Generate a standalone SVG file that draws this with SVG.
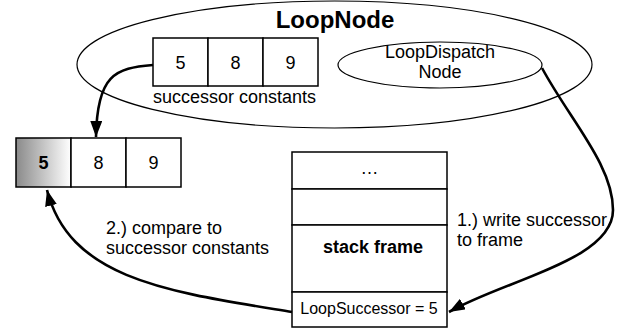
<svg xmlns="http://www.w3.org/2000/svg" width="619" height="329" viewBox="0 0 619 329">
<style>
text{font-family:"Liberation Sans",Arial,sans-serif;fill:#000}
.t{font-size:18px}
.c{text-anchor:middle}
.b{font-weight:bold}
.ell{fill:none;stroke:#000;stroke-width:1.2}
.box{fill:#fff;stroke:#000;stroke-width:1.5}
.conn{fill:none;stroke:#000;stroke-width:2.6}
</style>
<defs>
<marker id="ah" viewBox="0 0 16 12" refX="16" refY="6" markerWidth="16" markerHeight="12" markerUnits="userSpaceOnUse" orient="auto">
<path d="M0,0 L16,6 L0,12 z" fill="#000"/>
</marker>
<linearGradient id="g" x1="0" y1="0" x2="1" y2="0">
<stop offset="0" stop-color="#8a8a8a"/>
<stop offset="1" stop-color="#ffffff"/>
</linearGradient>
</defs>
<g id="loopnode">
<ellipse class="ell" cx="334.5" cy="64.5" rx="257.5" ry="63.5"/>
<text class="b c" x="335" y="28" font-size="24">LoopNode</text>
</g>
<g id="successor-constants">
<rect class="box" x="153" y="38" width="55" height="48"/>
<rect class="box" x="208" y="38" width="55" height="48"/>
<rect class="box" x="263" y="38" width="55" height="48"/>
<text class="t c" x="180.5" y="68.5">5</text>
<text class="t c" x="235.5" y="68.5">8</text>
<text class="t c" x="290.5" y="68.5">9</text>
<text class="t" x="153" y="103">successor constants</text>
</g>
<g id="loopdispatch">
<ellipse class="ell" cx="440" cy="65" rx="102" ry="23"/>
<text class="t c" x="440" y="58">LoopDispatch</text>
<text class="t c" x="440" y="78">Node</text>
</g>
<g id="left-array">
<rect x="16" y="138" width="55" height="49" fill="url(#g)" stroke="#000" stroke-width="1.5"/>
<rect class="box" x="71" y="138" width="55" height="49"/>
<rect class="box" x="126" y="138" width="55" height="49"/>
<text class="t c b" x="43.5" y="169">5</text>
<text class="t c" x="98.5" y="169">8</text>
<text class="t c" x="153.5" y="169">9</text>
</g>
<g id="stack-frame">
<rect class="box" x="292" y="152" width="155" height="37"/>
<rect class="box" x="292" y="189" width="155" height="36"/>
<rect class="box" x="292" y="225" width="155" height="67"/>
<rect class="box" x="292" y="292" width="155" height="35"/>
<text class="t c" x="369.5" y="174">…</text>
<text class="t c b" x="373" y="253">stack frame</text>
<text class="c" x="369" y="314" font-size="16">LoopSuccessor = 5</text>
</g>
<g id="connectors">
<path class="conn" d="M153,65 C115,68 97,75 96,137" marker-end="url(#ah)"/>
<path class="conn" d="M542,68 C570,120 613,165 613,210 C613,260 505,280 449,312" marker-end="url(#ah)"/>
<path class="conn" d="M292,312 C170,292 70,280 47,190" marker-end="url(#ah)"/>
</g>
<g id="labels">
<text class="t" x="106" y="234">2.) compare to</text>
<text class="t" x="106" y="254">successor constants</text>
<text class="t" x="457" y="226">1.) write successor</text>
<text class="t" x="457" y="246">to frame</text>
</g>
</svg>
